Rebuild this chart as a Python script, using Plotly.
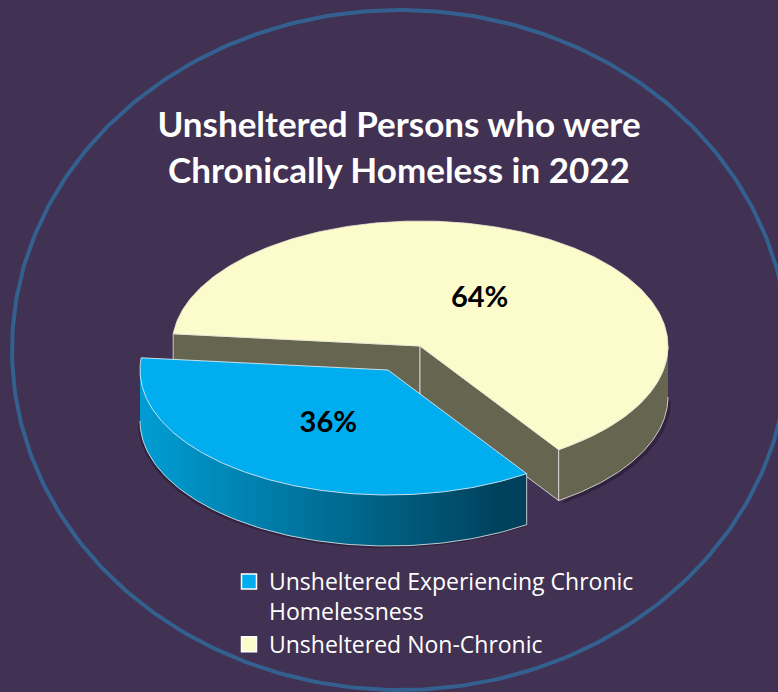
import numpy as np
import plotly.graph_objects as go

# ---- data ----
categories = ["Unsheltered Experiencing Chronic<br>Homelessness", "Unsheltered Non-Chronic"]
shares = [36, 64]
title_text = "Unsheltered Persons who were<br>Chronically Homeless in 2022"

# ---- style / projection ----
W, H = 778, 692
BG = "#413152"
BLUE = "#00AEEF"
YELLOW = "#FCFBCB"
WALL = "#66654F"
EDGE = "rgba(225,225,225,0.85)"
CX, CY, RX, RY = 420, 346, 248, 125   # centre and radii of the pie's top ellipse
DEPTH = 51                            # wall height
PULL = (-32, 24)                      # explode offset of the first slice
START = 56.0                          # clockwise degrees from +x where the first slice begins
LABEL_DROP = 4                        # vertical nudge of the percentage labels
GRAD = [(140, (0, 158, 212)), (400, (0, 92, 126)), (500, (0, 66, 94)), (530, (0, 64, 92))]


def rim(a0, a1, dx=0, dy=0, n=120):
    t = np.radians(np.linspace(a0, a1, n))
    return CX + dx + RX * np.cos(t), CY + dy + RY * np.sin(t)


def poly(fig, x, y, fill, edge=None, width=1):
    fig.add_trace(go.Scatter(x=list(x), y=list(y), mode="lines", fill="toself", fillcolor=fill,
                             line=dict(color=edge or fill, width=width if edge else 0),
                             hoverinfo="skip", showlegend=False))


def grad_color(x):
    xs = [g[0] for g in GRAD]
    return "rgb(%d,%d,%d)" % tuple(np.interp(x, xs, [g[1][i] for g in GRAD]) for i in range(3))


fig = go.Figure()

# slice angles derive from the values
sweep0 = 360 * shares[0] / sum(shares)
a_blue0, a_blue1 = START, START + sweep0
a_yel0, a_yel1 = a_blue1, START + 360

# outer frame ellipse
t = np.linspace(0, 2 * np.pi, 400)
fig.add_trace(go.Scatter(x=400 + 388 * np.cos(t), y=350 + 340 * np.sin(t), mode="lines",
                         line=dict(color="#33608F", width=4), hoverinfo="skip", showlegend=False))

# --- non-chronic slice (back) ---
xa, ya = rim(a_yel0, a_yel0, n=1)
xb, yb = rim(a_yel1, a_yel1, n=1)
# soft shadow behind the right wall
xr, yr = rim(360, a_yel1 + 0, 0, DEPTH)
poly(fig, xr + 3, yr + 3, "rgba(30,20,40,0.45)")
# cut walls
poly(fig, [xa[0], CX, CX, xa[0], xa[0]], [ya[0], CY, CY + DEPTH, ya[0] + DEPTH, ya[0]], WALL, EDGE)
poly(fig, [CX, xb[0], xb[0], CX, CX], [CY, yb[0], yb[0] + DEPTH, CY + DEPTH, CY], WALL, EDGE)
# outer wall
xt, yt = rim(360, a_yel1)
poly(fig, np.r_[xt, xt[::-1]], np.r_[yt, yt[::-1] + DEPTH], WALL, EDGE)
# top
xt, yt = rim(a_yel0, a_yel1, n=300)
poly(fig, np.r_[CX, xt, CX], np.r_[CY, yt, CY], YELLOW, "rgba(235,235,215,0.8)")

# --- chronic slice (pulled out, front) ---
dx, dy = PULL
xr, yr = rim(a_blue0, 180, dx, dy + DEPTH)
poly(fig, xr - 2, yr + 2, "rgba(30,20,40,0.45)")
# gradient wall: strips painted right-to-left, each reaching under the next to hide seams
angs = np.linspace(a_blue0, 180, 91)
for a0, a1 in zip(angs[:-1], angs[1:]):
    xt, yt = rim(a0, a1, dx, dy, n=4)
    col = grad_color(xt.mean())
    xo, yo = rim(a0, min(a1 + 4, 180), dx, dy, n=8)
    poly(fig, np.r_[xo, xo[::-1]], np.r_[yo, yo[::-1] + DEPTH], col)
xt, yt = rim(a_blue0, 180, dx, dy)
fig.add_trace(go.Scatter(x=xt, y=yt + DEPTH, mode="lines", line=dict(color=EDGE, width=1),
                         hoverinfo="skip", showlegend=False))
# vertical edge at the slice's right end
fig.add_trace(go.Scatter(x=[xt[0], xt[0]], y=[yt[0], yt[0] + DEPTH], mode="lines",
                         line=dict(color=EDGE, width=1), hoverinfo="skip", showlegend=False))
xt, yt = rim(a_blue0, a_blue1, dx, dy, n=200)
poly(fig, np.r_[CX + dx, xt, CX + dx], np.r_[CY + dy, yt, CY + dy], BLUE, "rgba(225,240,250,0.85)")

# --- percentage labels, placed at each slice's mid angle ---
for val, a0, a1, off in [(shares[0], a_blue0, a_blue1, PULL), (shares[1], a_yel0, a_yel1, (0, 0))]:
    m = np.radians((a0 + a1) / 2)
    fig.add_trace(go.Scatter(x=[CX + off[0] + 0.47 * RX * np.cos(m)],
                             y=[CY + off[1] + 0.47 * RY * np.sin(m) + LABEL_DROP],
                             mode="text", text=[f"{val}%"], textposition="middle center",
                             textfont=dict(family="Lato", size=29, color="black", weight=700),
                             hoverinfo="skip", showlegend=False))

# --- legend entries ---
for name, color in zip(categories, [BLUE, YELLOW]):
    fig.add_trace(go.Scatter(x=[None], y=[None], mode="markers", name=name,
                             marker=dict(symbol="square", size=15, color=color,
                                         line=dict(color="white", width=1.5))))

fig.update_layout(
    width=W, height=H, margin=dict(l=0, r=0, t=0, b=0),
    paper_bgcolor=BG, plot_bgcolor=BG,
    title=dict(text=title_text, x=399 / W, xanchor="center", y=1 - 137 / H, yanchor="middle",
               font=dict(family="Lato", size=35, color="white", weight=700)),
    xaxis=dict(range=[0, W], visible=False, fixedrange=True),
    yaxis=dict(range=[H, 0], visible=False, fixedrange=True),
    legend=dict(x=229 / W, xanchor="left", y=1 - 560 / H, yanchor="top", bgcolor="rgba(0,0,0,0)",
                font=dict(family="Open Sans", size=23, color="white"), traceorder="normal",
                valign="top", itemclick=False, itemdoubleclick=False),
)
fig.write_html("out.html", config=dict(displayModeBar=False),
               post_script="document.body.style.margin='0';document.documentElement.style.background='%s';" % BG)
